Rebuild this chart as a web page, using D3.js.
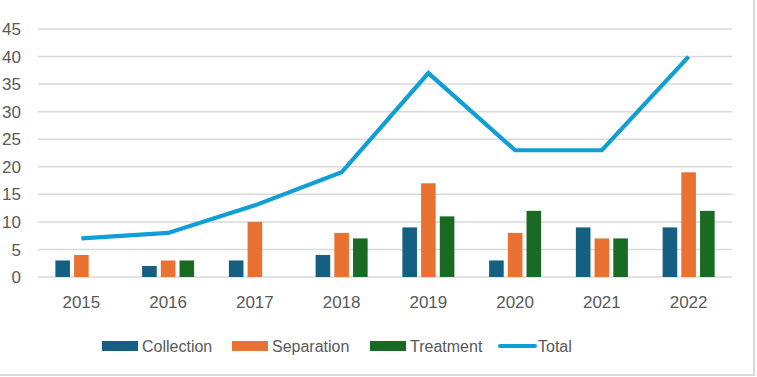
<!DOCTYPE html>
<html><head><meta charset="utf-8">
<script src="https://cdn.jsdelivr.net/npm/d3@7"></script>
<style>
html,body{margin:0;padding:0;background:#fff;}
svg{display:block;}
text{font-family:"Liberation Sans","Noto Sans",Arial,sans-serif;fill:#595959;}
</style></head>
<body>
<svg id="chart" width="757" height="377"></svg>
<script>
const years = ["2015","2016","2017","2018","2019","2020","2021","2022"];
const collection = [3,2,3,4,9,3,9,9];
const separation = [4,3,10,8,17,8,7,19];
const treatment = [0,3,0,7,11,12,7,12];
const total = [7,8,13,19,37,23,23,40];
const yTicks = [0,5,10,15,20,25,30,35,40,45];
const seriesNames = ["Collection","Separation","Treatment","Total"];
const colors = ["#156082","#E97132","#196B24","#0F9ED5"];

(function(){
const svg = d3.select("#chart");
svg.append("rect").attr("x",-2).attr("y",-2).attr("width",756).attr("height",377)
  .attr("fill","#fff").attr("stroke","#d9d9d9").attr("stroke-width",2);

const mLeft = 38, mRight = 732, mTop = 29, mBottom = 277;
const x = d3.scaleBand().domain(years).range([mLeft,mRight]);
const y = d3.scaleLinear().domain([0,45]).range([mBottom,mTop]);

svg.append("g").selectAll("line").data(yTicks).join("line")
  .attr("x1",mLeft).attr("x2",mRight)
  .attr("y1",d=>y(d)).attr("y2",d=>y(d))
  .attr("stroke","#d9d9d9").attr("stroke-width",1.5);

svg.append("g").selectAll("text").data(yTicks).join("text")
  .attr("x",21).attr("y",d=>y(d)).attr("dy","0.36em")
  .attr("text-anchor","end").style("font-size","17px").text(d=>d);

svg.append("g").selectAll("text").data(years).join("text")
  .attr("x",d=>x(d)+x.bandwidth()/2).attr("y",302).attr("dy","0.36em")
  .attr("text-anchor","middle").style("font-size","17px").text(d=>d);

const inner = d3.scaleBand().domain([0,1,2]).range([x.bandwidth()/2-26, x.bandwidth()/2+26]).paddingInner(0.22);
const barSeries = [collection, separation, treatment];
barSeries.forEach((vals,si)=>{
  svg.append("g").selectAll("rect").data(vals).join("rect")
    .attr("x",(d,i)=>x(years[i])+inner(si))
    .attr("width",inner.bandwidth())
    .attr("y",d=>y(d))
    .attr("height",d=>y(0)-y(d))
    .attr("fill",colors[si]);
});

const line = d3.line().x((d,i)=>x(years[i])+x.bandwidth()/2).y(d=>y(d));
svg.append("path").datum(total).attr("d",line)
  .attr("fill","none").attr("stroke",colors[3]).attr("stroke-width",4.2)
  .attr("stroke-linejoin","miter");

const legendX = [102, 232, 370, 498];
const lg = svg.append("g");
seriesNames.forEach((name,i)=>{
  if(i<3){
    lg.append("rect").attr("x",legendX[i]).attr("y",341).attr("width",36).attr("height",10).attr("fill",colors[i]);
  } else {
    lg.append("line").attr("x1",legendX[i]+2).attr("x2",legendX[i]+37).attr("y1",346).attr("y2",346)
      .attr("stroke",colors[i]).attr("stroke-width",4).attr("stroke-linecap","round");
  }
  lg.append("text").attr("x",legendX[i]+40).attr("y",346).attr("dy","0.36em")
    .style("font-size","16px").text(name);
});
})();
</script>
</body></html>
